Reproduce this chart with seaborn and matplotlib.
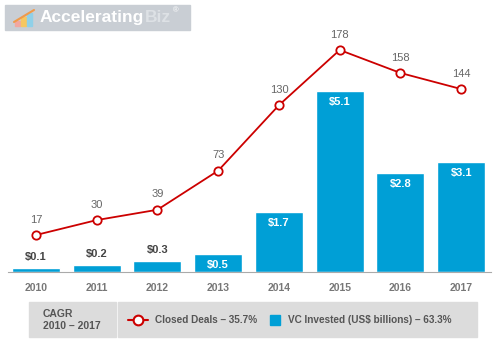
import matplotlib.pyplot as plt
import matplotlib.patches as mpatches
from matplotlib.lines import Line2D
import seaborn as sns
import pandas as pd

years = ['2010', '2011', '2012', '2013', '2014', '2015', '2016', '2017']
vc_invested = [0.1, 0.2, 0.3, 0.5, 1.7, 5.1, 2.8, 3.1]
closed_deals = [17, 30, 39, 73, 130, 178, 158, 144]
bar_labels = ['$0.1', '$0.2', '$0.3', '$0.5', '$1.7', '$5.1', '$2.8', '$3.1']
legend_deals = 'Closed Deals – 35.7%'
legend_vc = 'VC Invested (US$ billions) – 63.3%'
cagr_text = 'CAGR\n2010 – 2017'

df = pd.DataFrame({'Ano': years, 'VC': vc_invested, 'Deals': closed_deals})

sns.set_style('white')
plt.rcParams['font.family'] = ['Liberation Sans', 'DejaVu Sans']

azul = '#009fd6'
vermelho = '#cc0000'
cinza = '#555555'

fig = plt.figure(figsize=(5, 3.57), dpi=100)
ax = fig.add_axes([0.016, 0.238, 0.966, 0.678])

# Barras do investimento.
sns.barplot(data=df, x='Ano', y='VC', ax=ax, color=azul, saturation=1, width=0.79)
ax.set_xlim(-0.46, 7.49)
ax.set_ylim(0, 6.82)

for i, (v, lab) in enumerate(zip(vc_invested, bar_labels)):
    if v < 0.4:
        ax.text(i, v + 0.18, lab, ha='center', va='bottom', fontsize=8, color='#444444', fontweight='bold')
    else:
        ax.text(i, v - 0.17, lab, ha='center', va='top', fontsize=8, color='white', fontweight='bold')

# Linha dos negócios fechados.
ax2 = ax.twinx()
sns.lineplot(data=df, x='Ano', y='Deals', ax=ax2, color=vermelho, linewidth=1.3, sort=False,
             marker='o', markersize=6, markerfacecolor='white', markeredgecolor=vermelho, markeredgewidth=1.3)
ax2.set_ylim(-15.2, 195.4)
ax2.set_xlim(-0.46, 7.49)
for i, d in enumerate(closed_deals):
    ax2.text(i, d + 9, str(d), ha='center', va='bottom', fontsize=8, color='#666666')

for a in (ax, ax2):
    for s in ['top', 'right', 'left']:
        a.spines[s].set_visible(False)
    a.set_ylabel('')
    a.set_yticks([])
ax2.spines['bottom'].set_visible(False)
ax.spines['bottom'].set_color('#aaaaaa')
ax.set_xlabel('')
ax.tick_params(axis='x', length=4, color='#aaaaaa', labelsize=7.5, labelcolor='#777777', pad=4)
for t in ax.get_xticklabels():
    t.set_fontweight('bold')

# Caixas da legenda.
fig.patches.append(mpatches.Rectangle((29 / 500, 1 - 337 / 357), 87 / 500, 35 / 357,
                                      transform=fig.transFigure, color='#dcdcdc', zorder=0))
fig.patches.append(mpatches.Rectangle((118 / 500, 1 - 337 / 357), 359 / 500, 35 / 357,
                                      transform=fig.transFigure, color='#dcdcdc', zorder=0))
fig.text(43 / 500, 1 - 320 / 357, cagr_text, fontsize=7.5, color=cinza, fontweight='bold',
         va='center', ha='left', linespacing=1.35)
fig.add_artist(Line2D([128 / 500, 148 / 500], [1 - 320 / 357] * 2, color=vermelho, linewidth=1.5,
                      transform=fig.transFigure))
fig.add_artist(Line2D([138 / 500], [1 - 320 / 357], marker='o', markersize=7, markerfacecolor='white',
                      markeredgecolor=vermelho, markeredgewidth=1.5, transform=fig.transFigure))
fig.text(155 / 500, 1 - 320 / 357, legend_deals, fontsize=7.2, color=cinza, fontweight='bold', va='center')
fig.patches.append(mpatches.Rectangle((270 / 500, 1 - 325 / 357), 10 / 500, 10 / 357,
                                      transform=fig.transFigure, color=azul, zorder=1))
fig.text(288 / 500, 1 - 320 / 357, legend_vc, fontsize=7.2, color=cinza, fontweight='bold', va='center')

# Logotipo.
fig.patches.append(mpatches.Rectangle((5 / 500, 1 - 30 / 357), 185 / 500, 25 / 357,
                                      transform=fig.transFigure, color='#c9ced4', zorder=0))
t1 = fig.text(40 / 500, 1 - 17.5 / 357, 'Accelerating', fontsize=12.5, color='white', fontweight='bold',
              va='center')
r = fig.canvas.get_renderer()
bb1 = t1.get_window_extent(r)
t2 = fig.text(bb1.x1 / 500, 1 - 17.5 / 357, 'Biz', fontsize=12.5, color='#dde1e5', fontweight='bold',
              va='center')
bb2 = t2.get_window_extent(r)
fig.text(bb2.x1 / 500 + 0.004, 1 - 11 / 357, '®', fontsize=5.5, color='white', va='center')
for x0, h, c in [(15, 5, '#f2a7a0'), (21, 9, '#f6c760'), (27, 13, '#8fd0e8')]:
    fig.patches.append(mpatches.Rectangle((x0 / 500, 1 - 26 / 357), 5 / 500, h / 357,
                                          transform=fig.transFigure, color=c, zorder=1))
fig.add_artist(Line2D([14 / 500, 34 / 500], [1 - 22 / 357, 1 - 10 / 357], color='#f09a4a', linewidth=1.5,
                      transform=fig.transFigure))

plt.savefig('out.png', dpi=100)
